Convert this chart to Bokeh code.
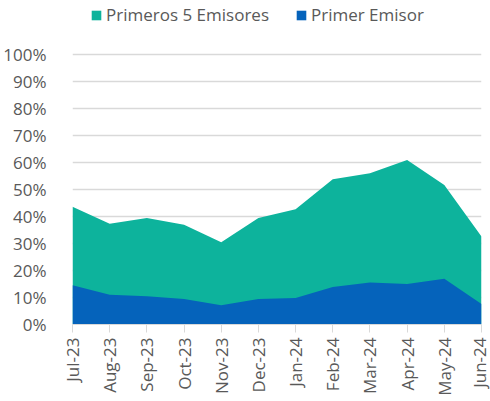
import math
from bokeh.plotting import figure
from bokeh.models import Range1d, FixedTicker, Legend, LegendItem, NumeralTickFormatter
from bokeh.embed import file_html
from bokeh.resources import INLINE

months = ["Jul-23", "Aug-23", "Sep-23", "Oct-23", "Nov-23", "Dec-23",
          "Jan-24", "Feb-24", "Mar-24", "Apr-24", "May-24", "Jun-24"]
top5 = [0.436, 0.373, 0.394, 0.369, 0.305, 0.394, 0.427, 0.538, 0.560, 0.609, 0.517, 0.326]
top1 = [0.145, 0.110, 0.105, 0.094, 0.071, 0.094, 0.098, 0.139, 0.156, 0.150, 0.169, 0.076]
y_ticks = [0, 0.1, 0.2, 0.3, 0.4, 0.5, 0.6, 0.7, 0.8, 0.9, 1.0]

GREEN = "#0db39c"
BLUE = "#0563bb"
TXT = "#595959"
FONT = "Open Sans"

x = list(range(len(months)))

# frame spans the full top area; headroom above 100% hosts the legend
p = figure(width=490, height=401, output_backend="svg", toolbar_location=None,
           x_range=Range1d(0, len(months) - 1), y_range=Range1d(0, 1.2),
           min_border_left=70, min_border_right=9, min_border_top=0, min_border_bottom=77)
p.outline_line_color = None

r1 = p.varea(x=x, y1=0, y2=top5, fill_color=GREEN)
r2 = p.varea(x=x, y1=0, y2=top1, fill_color=BLUE)

p.yaxis.ticker = FixedTicker(ticks=y_ticks)
p.yaxis.formatter = NumeralTickFormatter(format="0%")
p.yaxis.axis_line_color = None
p.yaxis.major_tick_line_color = None
p.yaxis.minor_tick_line_color = None
p.yaxis.major_label_standoff = 20
p.yaxis.major_label_text_font = FONT
p.yaxis.major_label_text_font_size = "17px"
p.yaxis.major_label_text_color = TXT

p.xaxis.ticker = FixedTicker(ticks=x)
p.xaxis.major_label_overrides = {i: m for i, m in enumerate(months)}
p.xaxis.major_label_orientation = math.pi / 2
p.xaxis.axis_line_color = "#d9d9d9"
p.xaxis.major_tick_line_color = "#d9d9d9"
p.xaxis.major_tick_out = 8
p.xaxis.major_tick_in = 0
p.xaxis.minor_tick_line_color = None
p.xaxis.major_label_standoff = 5
p.xaxis.major_label_text_font = FONT
p.xaxis.major_label_text_font_size = "17px"
p.xaxis.major_label_text_color = TXT

p.xgrid.grid_line_color = None
p.ygrid.grid_line_color = "#d9d9d9"
p.ygrid.grid_line_width = 1.5

legend = Legend(items=[LegendItem(label="Primeros 5 Emisores", renderers=[r1]),
                       LegendItem(label="Primer Emisor", renderers=[r2])],
                orientation="horizontal", location=(18, 298),
                border_line_color=None, background_fill_alpha=0,
                glyph_width=12, glyph_height=12, label_standoff=4, spacing=26,
                label_text_font=FONT, label_text_font_size="17px", label_text_color=TXT,
                padding=0, margin=0)
p.add_layout(legend, "center")

open("out.html", "w").write(file_html(p, INLINE))
